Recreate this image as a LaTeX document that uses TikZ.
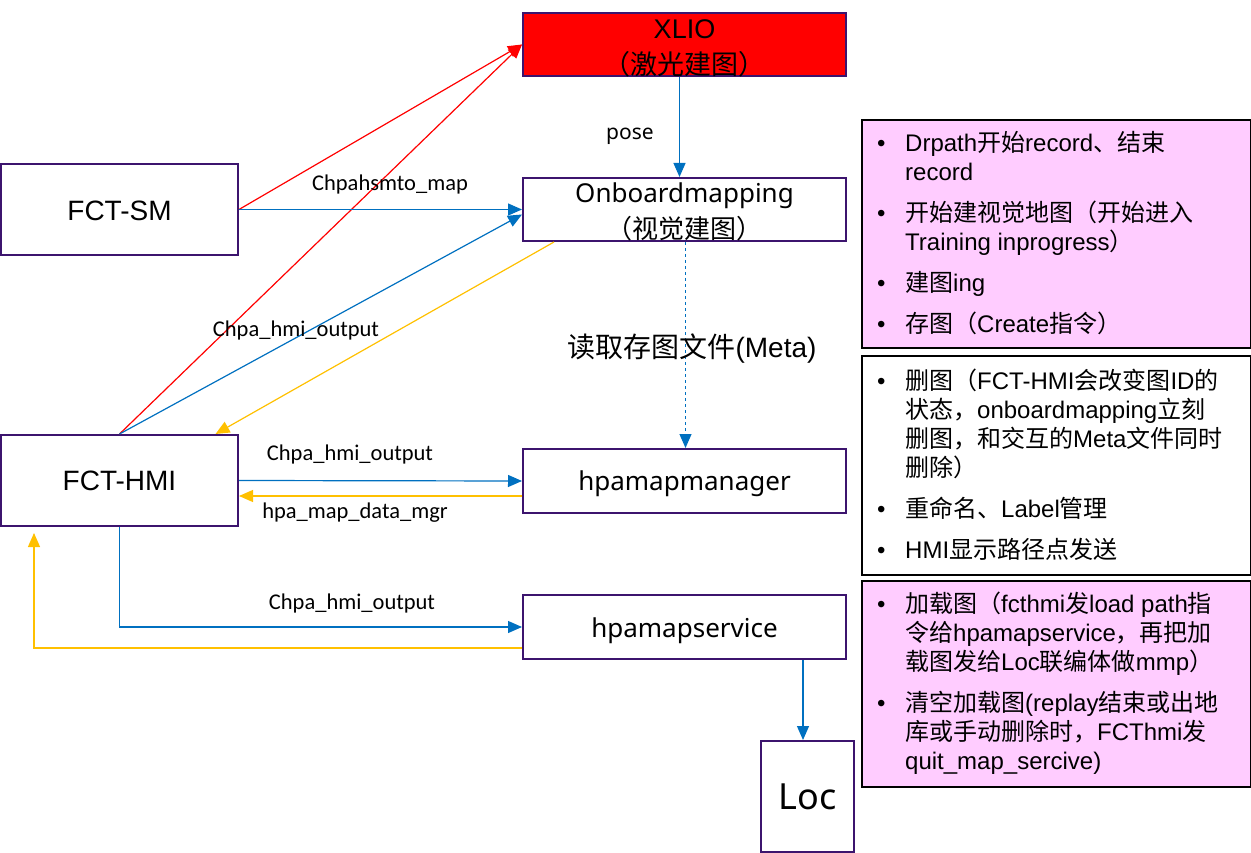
\documentclass[tikz,border=0pt]{standalone}
\usepackage{fontspec}
\setmainfont{Liberation Sans}
\newfontfamily\cjk{Noto Sans CJK SC}
\newfontfamily\notosans{Noto Sans}
\newfontfamily\carl{Carlito}
\usetikzlibrary{arrows.meta,calc}
\newcommand\zh[1]{{\cjk #1}}
\newcommand\bul{\makebox[31pt][l]{\hspace{3pt}•}}
\newcommand\ind{\makebox[31pt][l]{}}
\newcommand\twolines[3]{\raisebox{#1}[0pt][0pt]{\begin{tabular}{@{}c@{}}#2\\#3\end{tabular}}}
\newcommand\lowered[2]{\raisebox{#1}[\height][\depth]{#2}}
\definecolor{boxline}{RGB}{60,20,110}
\definecolor{pinkfill}{RGB}{255,204,255}
\definecolor{cblue}{RGB}{0,112,192}
\definecolor{cred}{RGB}{255,0,0}
\definecolor{cyellow}{RGB}{255,192,0}
\begin{document}
\begin{tikzpicture}[x=1pt,y=-1pt,
  comp/.style={draw=boxline, line width=2pt, fill=white, inner sep=0pt, align=center},
  note/.style={draw=black, line width=2pt, inner sep=0pt, anchor=north west, minimum width=389pt},
  notetext/.style={anchor=north west, inner sep=0pt, align=left, font=\fontsize{24}{29}\selectfont},
  lbl/.style={inner sep=0pt, font=\carl\fontsize{22.5}{27}\selectfont},
  conn/.style={line width=1.2pt, -{Triangle[length=14pt,width=12pt]}},
]
\useasboundingbox (0,0) rectangle (1251,853);

% component boxes
\node[comp, fill=cred, minimum width=323pt, minimum height=63pt, font=\fontsize{27}{36}\selectfont] (xlio) at (684.5,44.5) {\twolines{-10.75pt}{XLIO}{\zh{（激光建图）}}};
\node[comp, minimum width=323pt, minimum height=63pt, font=\notosans\fontsize{26}{36}\selectfont] (obm) at (684.5,209.5) {\twolines{-10.5pt}{Onboardmapping}{\zh{（视觉建图）}}};
\node[comp, minimum width=237pt, minimum height=91pt, font=\fontsize{28}{34}\selectfont] (sm) at (119.5,209.5) {\lowered{-1pt}{FCT-SM}};
\node[comp, minimum width=237pt, minimum height=91pt, font=\fontsize{28}{34}\selectfont] (hmi) at (119.5,480.5) {FCT-HMI};
\node[comp, minimum width=323pt, minimum height=64pt, font=\notosans\fontsize{26}{32}\selectfont] (mgr) at (684.5,481) {\lowered{-3pt}{hpamapmanager}};
\node[comp, minimum width=323pt, minimum height=64pt, font=\notosans\fontsize{26}{32}\selectfont] (svc) at (684.5,627) {\lowered{-4pt}{hpamapservice}};
\node[comp, minimum width=93pt, minimum height=111pt, font=\notosans\fontsize{36}{40}\selectfont] (loc) at (807.5,796.5) {Loc};

% note boxes
\node[note, fill=pinkfill, minimum height=228pt] (n1) at (861,119) {};
\node[note, fill=white, minimum height=219pt] (n2) at (861,355) {};
\node[note, fill=pinkfill, minimum height=206pt] (n3) at (861,580) {};

\node[notetext] (t1) at (874,131) {%
\bul Drpath\zh{开始}record\zh{、结束}\\
\ind record\\[12pt]
\bul \zh{开始建视觉地图（开始进入}\\
\ind Training inprogress\zh{）}\\[12pt]
\bul \zh{建图}ing\\[12pt]
\bul \zh{存图（}Create\zh{指令）}};

\node[notetext] (t2) at (874,369) {%
\bul \zh{删图（}FCT-HMI\zh{会改变图}ID\zh{的}\\
\ind \zh{状态，}onboardmapping\zh{立刻}\\
\ind \zh{删图，和交互的}Meta\zh{文件同时}\\
\ind \zh{删除）}\\[12pt]
\bul \zh{重命名、}Label\zh{管理}\\[12pt]
\bul HMI\zh{显示路径点发送}};

\node[notetext] (t3) at (874,592) {%
\bul \zh{加载图（}fcthmi\zh{发}load path\zh{指}\\
\ind \zh{令给}hpamapservice\zh{，再把加}\\
\ind \zh{载图发给}Loc\zh{联编体做}mmp\zh{）}\\[12pt]
\bul \zh{清空加载图}(replay\zh{结束或出地}\\
\ind \zh{库或手动删除时，}FCThmi\zh{发}\\
\ind quit\_map\_sercive)};

% helper coordinates
\coordinate (yret) at (34,533);
\coordinate (locin) at ([xshift=-4.5pt]loc.north);

% connectors
\draw[conn, cred] (sm.east) -- (xlio.west);
\draw[conn, cred] (hmi.north) -- (xlio.west);
\draw[conn, cblue] (sm.east) -- (obm.west);
\draw[conn, cblue] (hmi.north) -- ([yshift=-5pt]obm.west);
\draw[conn, cyellow] ([xshift=32pt]obm.south west) -- ([xshift=96pt]hmi.north);
\draw[conn, cblue] ([xshift=-5pt]xlio.south) -- ([xshift=-5pt]obm.north);
\draw[conn, cblue, dashed] ([xshift=1pt]obm.south) -- ([xshift=1pt]mgr.north);
\draw[conn, cblue] (hmi.east) -- (mgr.west);
\draw[conn, cyellow] ([yshift=-15pt]mgr.west) -- ([yshift=-15pt]mgr.west -| hmi.east);
\draw[conn, cblue] (hmi.south) |- (svc.west);
\draw[conn, cyellow] ([yshift=-21pt]svc.west) -| (yret);
\draw[conn, cblue] (locin |- svc.south) -- (locin);

% labels
\node[lbl] (l1) at (390,185) {Chpahsmto\_map};
\node[inner sep=0pt, font=\notosans\fontsize{21}{25}\selectfont] (l2) at (630,136) {pose};
\node[lbl] (l3) at (296,331) {Chpa\_hmi\_output};
\node[inner sep=0pt, font=\fontsize{28}{32}\selectfont] (l4) at (692,349) {\zh{读取存图文件}(Meta)};
\node[lbl] (l5) at (350,455) {Chpa\_hmi\_output};
\node[lbl] (l6) at (355,513) {hpa\_map\_data\_mgr};
\node[lbl] (l7) at (352,603) {Chpa\_hmi\_output};
\end{tikzpicture}
\end{document}
